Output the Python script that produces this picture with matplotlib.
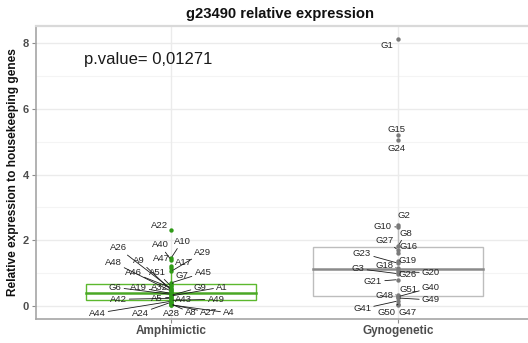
import matplotlib
matplotlib.use("Agg")
import matplotlib.pyplot as plt
import numpy as np

plt.rcParams['font.family'] = ['Liberation Sans', 'DejaVu Sans']

# Relative expression per sample, by group
categories = ["Amphimictic", "Gynogenetic"]

amph_ids = ["A22", "A10", "A40", "A47", "A17", "A29", "A45", "G7", "A51", "A46",
            "A26", "A9", "A48", "A32", "A19", "G6", "G9", "A1", "A5", "A42",
            "A43", "A49", "A44", "A24", "A28", "A8", "A27", "A4"]
amph_vals = [2.31, 1.45, 1.40, 1.22, 1.15, 1.05, 0.70, 0.64, 0.60, 0.55,
             0.52, 0.48, 0.45, 0.41, 0.38, 0.35, 0.32, 0.30, 0.26, 0.23,
             0.20, 0.17, 0.14, 0.11, 0.08, 0.06, 0.04, 0.03]

gyno_ids = ["G1", "G15", "G24", "G2", "G10", "G8", "G27", "G16", "G19", "G23",
            "G18", "G26", "G20", "G3", "G21", "G48", "G51", "G40", "G49", "G41",
            "G50", "G47"]
gyno_vals = [8.12, 5.20, 5.05, 2.46, 2.40, 1.82, 1.70, 1.62, 1.38, 1.30,
             1.16, 1.08, 1.04, 0.98, 0.80, 0.34, 0.30, 0.28, 0.24, 0.15,
             0.05, 0.02]

p_value_text = "p.value= 0,01271"
y_ticks = [0, 2, 4, 6, 8]

# Repelled label offsets (pixels, up is positive)
label_offsets = {
    "A22": (-11, 5), "A10": (11, 17), "A40": (-11, 15), "A47": (-10, 7),
    "A17": (12, 6), "A29": (32, 19), "A45": (32, 10), "G7": (11, 9),
    "A51": (-14, 14), "A46": (-38, 15), "A26": (-53, 41), "A9": (-32, 30),
    "A48": (-58, 29), "A32": (-12, 5), "A19": (-33, 6), "G6": (-56, 7),
    "G9": (29, 8), "A1": (51, 9), "A5": (-14, -1), "A42": (-53, -1),
    "A43": (12, 0), "A49": (45, 1), "A44": (-74, -12), "A24": (-31, -11),
    "A28": (0, -10), "A8": (20, -9), "A27": (38, -8), "A4": (58, -8),
    "G1": (-11, -6), "G15": (-1, 6), "G24": (-1, -8), "G2": (6, 10),
    "G10": (-15, 1), "G8": (8, 13), "G27": (-13, 10), "G16": (10, 6),
    "G19": (10, 0), "G23": (-36, 10), "G18": (-14, 2), "G26": (10, -4),
    "G20": (33, -1), "G3": (-40, 5), "G21": (-25, -2), "G48": (-14, -1),
    "G51": (10, 7), "G40": (33, 9), "G49": (33, -2), "G41": (-36, -8),
    "G50": (-12, -8), "G47": (10, -7),
}

groups = [
    (1, amph_ids, amph_vals, "#2f9a17", "#5cb82e", "#4aa825"),
    (2, gyno_ids, gyno_vals, "#7a7a7a", "#bdbdbd", "#8a8a8a"),
]

fig = plt.figure(figsize=(5.28, 3.43), dpi=100)
ax = fig.add_axes([36 / 528, 1 - 318.5 / 343, (528 - 36) / 528, (318.5 - 26) / 343])
ax.set_facecolor("white")

# Grid
for y in [1, 3, 5, 7]:
    ax.axhline(y, color="#f4f4f4", lw=0.8, zorder=0)
for y in y_ticks:
    ax.axhline(y, color="#ebebeb", lw=1.0, zorder=0)
for x in [1, 2]:
    ax.axvline(x, color="#ebebeb", lw=1.0, zorder=0)

box_w = 0.75
for xpos, ids, vals, pcol, bcol, mcol in groups:
    v = np.array(vals)
    q1, med, q3 = np.percentile(v, [25, 50, 75])
    iqr = q3 - q1
    lo = v[v >= q1 - 1.5 * iqr].min()
    hi = v[v <= q3 + 1.5 * iqr].max()
    # whiskers
    ax.plot([xpos, xpos], [q3, hi], color=bcol, lw=1.0, zorder=2)
    ax.plot([xpos, xpos], [lo, q1], color=bcol, lw=1.0, zorder=2)
    # box
    rect = plt.Rectangle((xpos - box_w / 2, q1), box_w, q3 - q1, fill=False,
                         edgecolor=bcol, lw=1.0, zorder=2)
    ax.add_patch(rect)
    ax.plot([xpos - box_w / 2, xpos + box_w / 2], [med, med], color=mcol, lw=1.8, zorder=2)
    # points
    ax.scatter(np.full(len(v), xpos), v, s=10, color=pcol, zorder=3, linewidths=0)
    # labels, with a leader segment when pushed away from the point
    for name, val in zip(ids, vals):
        dx, dy = label_offsets[name]
        dist = np.hypot(dx, dy)
        props = dict(arrowstyle="-", color="#1a1a1a", lw=0.6, shrinkA=0, shrinkB=1.5) if dist > 14 else None
        ax.annotate(name, xy=(xpos, val), xytext=(dx, dy), textcoords="offset pixels",
                    ha="center", va="center", fontsize=6.8, color="#262626",
                    arrowprops=props, zorder=4)

ax.text(0.9, 7.5, p_value_text, fontsize=12, color="#1a1a1a", ha="center", va="center")

# Axis limits with 5% expansion like ggplot
all_vals = np.array(amph_vals + gyno_vals)
rng = all_vals.max() - all_vals.min()
ax.set_ylim(all_vals.min() - 0.05 * rng, all_vals.max() + 0.05 * rng)
ax.set_xlim(1 - 135 / 227, 2 + 130 / 227)

ax.set_yticks(y_ticks)
ax.set_yticklabels([str(t) for t in y_ticks], fontsize=8, color="#4d4d4d", fontweight="bold")
ax.set_xticks([1, 2])
ax.set_xticklabels(categories, fontsize=8.5, color="#4d4d4d", fontweight="bold")
ax.tick_params(axis="both", length=3, color="#8c8c8c", width=0.8, pad=2)

for side in ["top", "bottom", "left"]:
    ax.spines[side].set_color("#a6a6a6")
    ax.spines[side].set_linewidth(1.2)
ax.spines["top"].set_color("#d9d9d9")
ax.spines["top"].set_linewidth(1.6)
ax.spines["right"].set_visible(False)

ax.set_ylabel("Relative expression to housekeeping genes", fontsize=8.6, fontweight="bold",
              color="#111111", labelpad=3)

fig.text(280 / 528, 1 - 14 / 343, "g23490 relative expression", fontsize=10.6,
         fontweight="bold", ha="center", va="center", color="#111111")

fig.savefig("out.png", dpi=100)
